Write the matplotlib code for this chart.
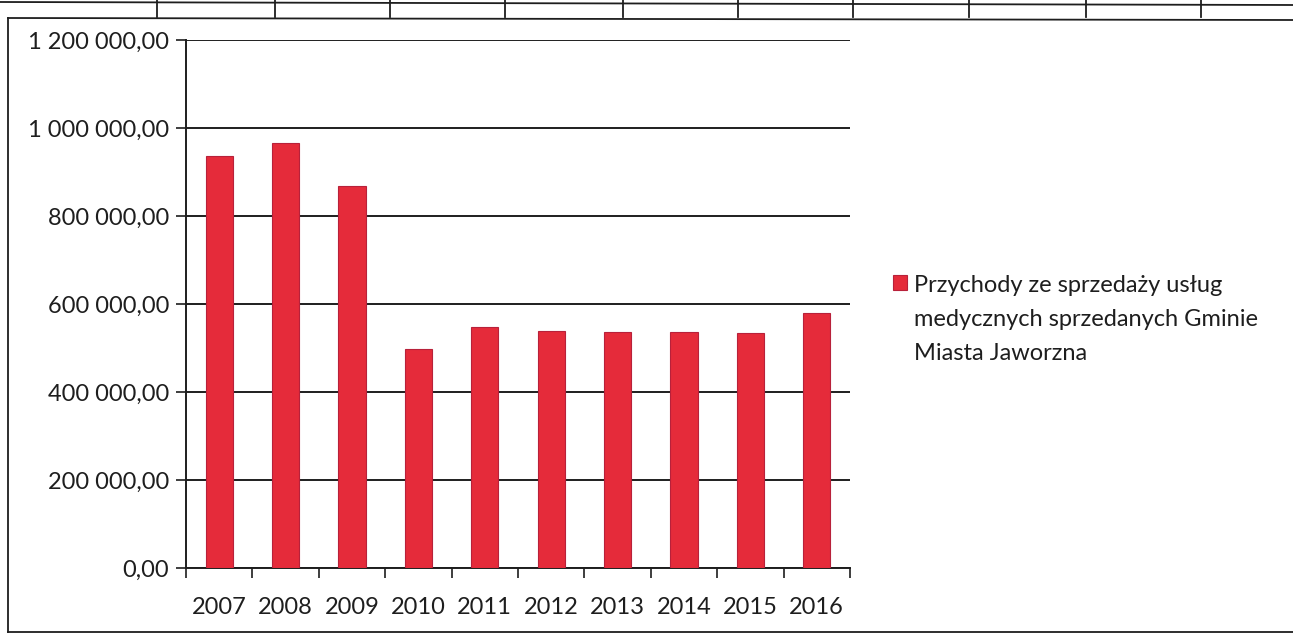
import matplotlib
matplotlib.use("Agg")
import matplotlib.pyplot as plt
from matplotlib.lines import Line2D
from matplotlib.ticker import FuncFormatter, MultipleLocator
import numpy as np

plt.rcParams['font.family'] = ['Lato', 'DejaVu Sans']

years = ["2007", "2008", "2009", "2010", "2011", "2012", "2013", "2014", "2015", "2016"]
revenue = [936000, 966000, 868000, 498000, 548000, 539000, 537000, 536000, 535000, 580000]
series_label = "Przychody ze sprzedaży usług\nmedycznych sprzedanych Gminie\nMiasta Jaworzna"

bar_color = "#e52b3a"
edge_color = "#b8213a"
ink = "#1e1e1e"

W, H = 1293, 635
fig = plt.figure(figsize=(W / 100, H / 100), dpi=100)
ax = fig.add_axes([186 / W, 1 - 568 / H, (850 - 186) / W, (568 - 40) / H])

x = np.arange(len(years))
bars = ax.bar(x, revenue, width=0.41, color=bar_color, edgecolor=edge_color,
              linewidth=0.8, label=series_label, zorder=3)

ax.set_ylim(0, 1200000)
ax.set_xlim(-0.5, len(years) - 0.5)
ax.yaxis.set_major_locator(MultipleLocator(200000))


def pl_format(v, pos):
    whole = f"{int(round(v)):,}".replace(",", " ")
    return f"{whole},00"


ax.yaxis.set_major_formatter(FuncFormatter(pl_format))
ax.grid(axis="y", color=ink, linewidth=1.4, zorder=1)
ax.set_axisbelow(True)

ax.set_xticks(x)
ax.set_xticklabels(years)
ax.set_xticks(np.arange(-0.5, len(years)), minor=True)
ax.tick_params(axis="x", which="major", length=0, pad=21, labelsize=17, colors=ink)
ax.tick_params(axis="x", which="minor", length=7, width=1.2, direction="out", color=ink)
ax.tick_params(axis="y", which="major", length=7, width=1.2, direction="out",
               labelsize=17, pad=5, colors=ink)

for side in ("top", "right"):
    ax.spines[side].set_visible(False)
for side in ("left", "bottom"):
    ax.spines[side].set_color(ink)
    ax.spines[side].set_linewidth(1.4)

leg = fig.legend(handles=[bars], labels=[series_label], loc="upper left",
                 bbox_to_anchor=(872 / W, 1 - 254 / H), frameon=False,
                 fontsize=17, handlelength=0.6, handleheight=0.6,
                 handletextpad=0.3, labelspacing=0.2)
for t in leg.get_texts():
    t.set_color(ink)
    t.set_linespacing(1.75)
# put the colour key beside the first line of the label
for column in leg._legend_handle_box.get_children():
    for row in column.get_children():
        row.align = "top"

# outer frame around the chart
frame_kw = dict(color=ink, linewidth=1.3, transform=fig.transFigure)
fig.add_artist(Line2D([8 / W, 8 / W], [1 - 18 / H, 1 - 632 / H], **frame_kw))
fig.add_artist(Line2D([8 / W, 1.0], [1 - 18 / H, 1 - 20 / H], **frame_kw))
fig.add_artist(Line2D([8 / W, 1.0], [1 - 632 / H, 1 - 632 / H], **frame_kw))

# table row edge above the chart
fig.add_artist(Line2D([0, 1.0], [1 - 2 / H, 1 - 5 / H], **frame_kw))
for xc in [157, 275, 390, 505, 623, 738, 853, 969, 1086, 1201]:
    fig.add_artist(Line2D([xc / W, xc / W], [1.0, 1 - 17 / H], **frame_kw))

fig.savefig("out.png", dpi=100)
